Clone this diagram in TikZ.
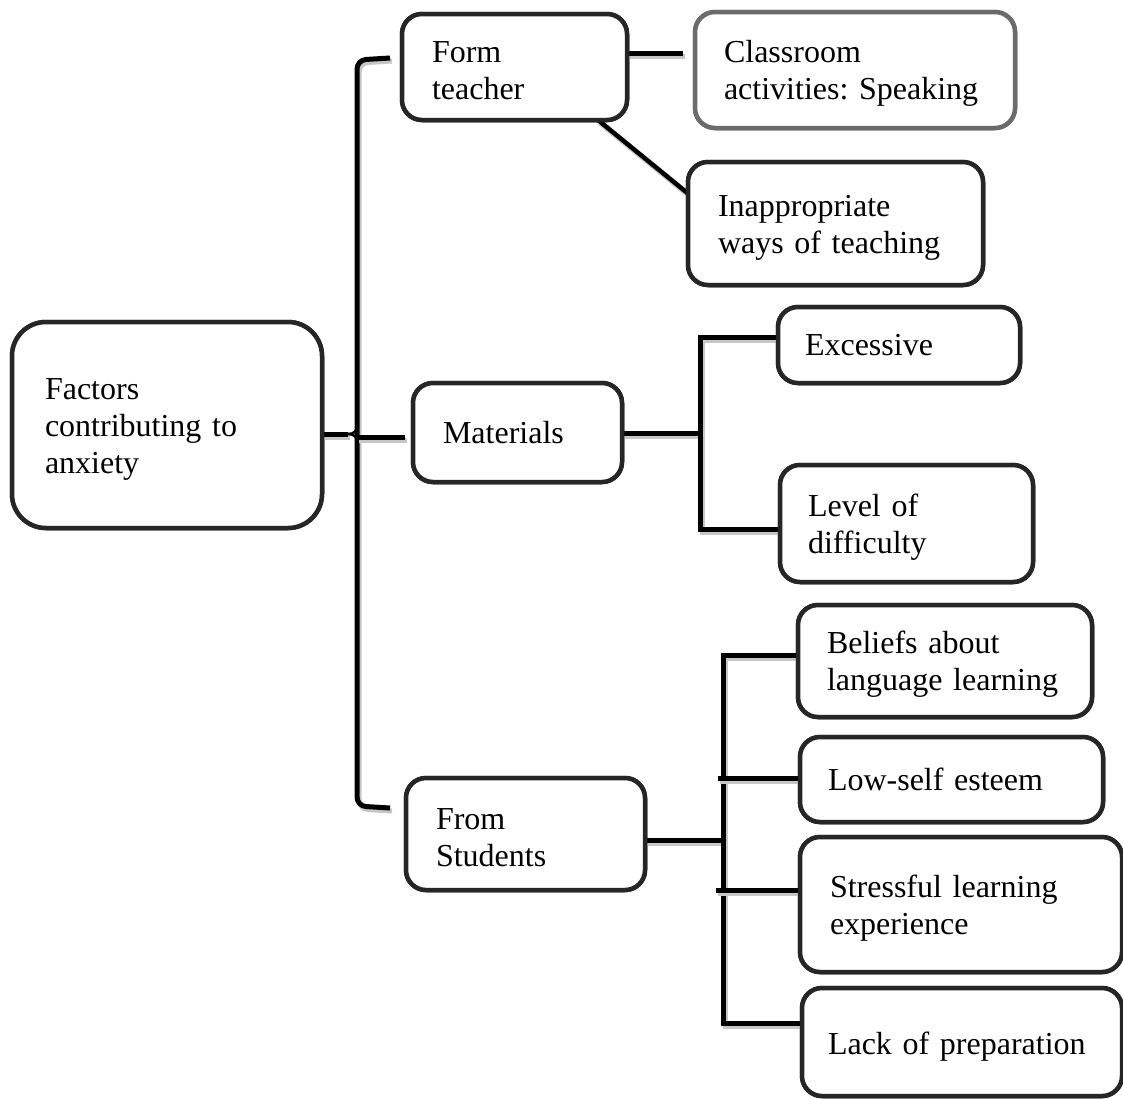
\documentclass[tikz,border=0pt]{standalone}
\usepackage{fontspec}
\setmainfont{Liberation Serif}
\frenchspacing
\newcommand{\dn}[1][29pt]{\rule{0pt}{#1}}
\begin{document}
\begin{tikzpicture}[x=1pt,y=-1pt,
  box/.style={draw=black!85, line width=4.5pt, rounded corners=20pt, fill=white,
    anchor=north west, align=left, inner ysep=0pt, outer sep=0pt,
    font=\fontsize{32}{37}\selectfont\frenchspacing},
  conn/.style={draw=black, line width=5pt,
    preaction={draw=gray!45, line width=5pt, transform canvas={shift={(2pt,-3pt)}}}}
]
\useasboundingbox (0,0) rectangle (1123,1098);
\newcommand{\bx}[8]{% name, x, y, w, h, xsep, opts, text
  \node[box, minimum width=#4pt, minimum height=#5pt, inner xsep=#6pt,
        text width=\dimexpr #4pt-#6pt-#6pt\relax, #7] (#1) at (#2,#3) {#8};}
\newcommand{\allboxes}{%
\bx{factors}{12}{322}{310}{206}{33}{rounded corners=34pt}{\dn Factors\\contributing to\\anxiety}
\bx{form}{402}{14}{225}{106}{30}{}{\dn Form\\teacher}
\bx{class}{695}{12}{320}{116}{29}{draw=black!58}{\dn Classroom\\activities: Speaking}
\bx{inapp}{688}{162}{295}{123}{30}{}{\dn Inappropriate\\ways of teaching}
\bx{materials}{413}{383}{209}{99}{30}{}{Materials}
\bx{excessive}{778}{307}{242}{76}{27}{}{Excessive}
\bx{level}{780}{465}{253}{117}{28}{}{\dn Level of\\difficulty}
\bx{students}{406}{778}{239}{112}{30}{}{\dn From\\Students}
\bx{beliefs}{798}{605}{294}{112}{29}{}{\dn Beliefs about\\language learning}
\bx{low}{800}{737}{303}{85}{28}{}{Low-self esteem}
\bx{stress}{800}{837}{322}{135}{30}{}{\dn Stressful learning\\experience}
\bx{lack}{802}{988}{320}{108}{26}{}{\dn[32pt]Lack of preparation}
}
% boxes placed first to name them; redrawn on top at the end
\allboxes

% brace
\coordinate (bt) at (390,58);
\coordinate (bb) at (390,808);
\coordinate (bm) at (357,434);
\draw[conn, rounded corners=9pt] (bt) -- (357,60) -- (357,806) -- (bb);
\draw[conn] (factors.east |- bm) -- (348,434);
\draw[draw=black, line width=2.5pt] (348,434) .. controls (354,434) and (357,431) .. (357,426);
\draw[draw=black, line width=2.5pt] (348,434) .. controls (354,434) and (357,437) .. (357,442);
\draw[conn] (357,437) -- ([xshift=-8pt]materials.west |- 0,437);

% form teacher
\draw[conn] ([xshift=-5pt,yshift=14pt]form.east) -- ([xshift=-12pt]class.west |- 0,53);
\draw[conn, line width=4.5pt] ([xshift=-29pt]form.south east) -- ([yshift=30pt]inapp.west);

% materials
\coordinate (mj) at (700,433);
\draw[conn] (materials.east |- mj) -- (mj);
\draw[conn] (excessive.west |- 0,337) -- (700,337) -- (700,529) -- (level.west |- 0,529);

% students
\coordinate (sj) at (723,840);
\draw[conn] (students.east |- sj) -- (sj);
\draw[conn] (beliefs.west |- 0,655) -- (723,655) -- (723,1023) -- (lack.west |- 0,1023);
\draw[conn] (718,778) -- (low.west |- 0,778);
\draw[conn] (716,890) -- (stress.west |- 0,890);

% redraw boxes on top
\allboxes
\end{tikzpicture}
\end{document}
